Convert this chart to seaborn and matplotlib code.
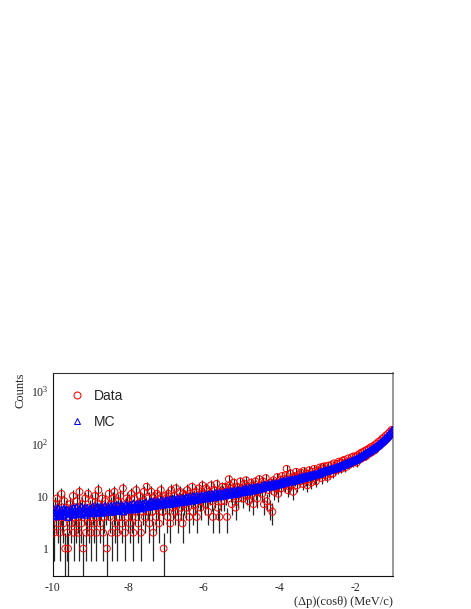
import numpy as np
import pandas as pd
import matplotlib
matplotlib.use("Agg")
import matplotlib.pyplot as plt
import seaborn as sns
from matplotlib.ticker import MultipleLocator, LogLocator, FixedLocator, FixedFormatter, NullFormatter
from matplotlib.lines import Line2D

# ---- data: 360 bins of 0.025 from -10 to -1 (one row = half a unit) --------
bin_lo = -10.0
bin_w = 0.025

data_counts = [
    5, 2, 7, 4, 9, 3, 6, 2, 5, 11, 4, 3, 8, 1, 6, 2, 1, 4, 7, 3,
    6, 10, 2, 5, 3, 8, 4, 2, 12, 6, 3, 7, 1, 5, 9, 2, 4, 11, 3, 6,
    2, 8, 5, 3, 10, 4, 2, 7, 13, 5, 3, 6, 9, 2, 4, 8, 5, 1, 6, 11,
    4, 7, 2, 9, 5, 12, 3, 6, 2, 8, 4, 10, 6, 3, 14, 5, 2, 7, 9, 4,
    8, 3, 6, 11, 4, 2, 9, 5, 13, 7, 3, 6, 10, 2, 8, 5, 12, 4, 7, 15,
    6, 9, 3, 7, 12, 5, 2, 10, 8, 4, 11, 6, 3, 9, 13, 7, 5, 1, 8, 10,
    9, 4, 11, 7, 3, 13, 8, 6, 10, 5, 14, 7, 4, 9, 12, 6, 8, 3, 11, 7,
    10, 6, 13, 8, 4, 11, 9, 15, 5, 10, 7, 12, 4, 9, 14, 8, 6, 11, 16, 9,
    11, 7, 14, 9, 5, 12, 10, 16, 8, 4, 13, 9, 11, 17, 6, 10, 4, 12, 8, 15,
    12, 8, 15, 10, 4, 13, 21, 16, 11, 7, 14, 18, 10, 6, 12, 15, 9, 13, 19, 11,
    14, 9, 17, 12, 20, 10, 15, 8, 13, 18, 11, 16, 7, 14, 19, 12, 9, 15, 21, 13,
    16, 11, 19, 7, 14, 22, 8, 17, 13, 6, 18, 15, 5, 20, 12, 17, 14, 23, 11, 18,
    20, 14, 24, 18, 21, 16, 25, 33, 13, 19, 15, 27, 17, 22, 12, 24, 20, 29, 16, 23,
    25, 19, 28, 22, 17, 30, 24, 20, 27, 16, 26, 31, 21, 18, 29, 25, 33, 22, 19, 28,
    31, 24, 35, 28, 22, 36, 29, 37, 25, 32, 23, 38, 30, 26, 39, 33, 27, 42, 31, 36,
    41, 32, 45, 36, 43, 33, 47, 38, 49, 35, 44, 40, 52, 39, 47, 42, 55, 43, 57, 45,
    56, 43, 60, 49, 63, 50, 67, 53, 69, 55, 73, 57, 76, 62, 80, 65, 85, 68, 88, 73,
    93, 76, 99, 85, 107, 89, 113, 98, 123, 104, 131, 112, 142, 121, 151, 134, 165, 148, 182, 174,
]

mc_counts = [
    4.3, 5.6, 4.8, 4.1, 5.3, 5.9, 4.5, 5.0, 4.2, 5.5, 4.9, 4.4, 5.8, 5.1, 4.6, 5.4, 4.0, 5.2, 4.7, 5.7,
    5.0, 4.4, 5.9, 5.3, 4.6, 6.1, 5.1, 4.5, 5.6, 4.8, 6.2, 5.2, 4.7, 5.8, 5.0, 4.4, 6.0, 5.4, 4.9, 5.7,
    5.6, 4.8, 6.3, 5.2, 4.7, 6.0, 5.5, 6.4, 4.9, 5.7, 5.1, 6.2, 4.8, 5.9, 5.3, 6.5, 5.0, 5.8, 5.4, 6.1,
    5.4, 6.4, 5.0, 6.1, 5.7, 6.7, 5.2, 6.0, 5.5, 6.8, 5.3, 6.2, 5.8, 6.6, 5.1, 6.3, 5.9, 6.9, 5.6, 6.4,
    6.1, 5.5, 6.8, 6.3, 5.7, 7.2, 6.0, 6.6, 5.6, 7.0, 6.4, 5.9, 7.3, 6.2, 6.9, 5.8, 7.1, 6.5, 7.4, 6.2,
    6.9, 6.2, 7.5, 6.6, 7.8, 6.4, 7.1, 8.0, 6.5, 7.4, 6.8, 7.9, 6.7, 7.6, 7.0, 8.2, 6.9, 7.5, 7.2, 8.1,
    7.3, 8.3, 7.0, 7.9, 8.6, 7.4, 8.1, 7.2, 8.8, 7.7, 8.4, 7.5, 9.0, 7.9, 8.5, 7.6, 9.1, 8.2, 7.8, 8.9,
    8.4, 9.3, 7.9, 8.8, 9.6, 8.2, 9.0, 8.6, 9.9, 8.5, 9.4, 8.3, 10.1, 9.0, 8.7, 9.8, 9.2, 10.3, 8.9, 9.7,
    9.4, 10.4, 9.0, 10.0, 10.8, 9.5, 10.2, 9.3, 11.0, 9.9, 10.6, 9.6, 11.3, 10.1, 10.9, 9.8, 11.5, 10.4, 11.1, 10.2,
    10.7, 11.8, 10.3, 11.3, 12.2, 10.8, 11.6, 10.6, 12.5, 11.2, 12.0, 10.9, 12.8, 11.5, 12.3, 11.1, 13.0, 11.9, 12.6, 11.7,
    12.3, 13.5, 11.9, 12.9, 14.0, 12.5, 13.3, 12.2, 14.4, 13.0, 13.8, 12.7, 14.7, 13.4, 14.2, 13.1, 15.0, 13.7, 14.5, 13.9,
    14.4, 15.8, 14.1, 15.2, 16.3, 14.8, 15.6, 14.9, 16.8, 15.5, 16.2, 15.3, 17.2, 16.0, 16.7, 15.9, 17.6, 16.5, 17.3, 16.9,
    17.4, 18.8, 17.0, 18.3, 19.5, 18.0, 18.9, 18.2, 20.1, 19.0, 19.7, 18.8, 20.6, 19.6, 20.3, 19.5, 21.2, 20.2, 21.0, 20.6,
    21.3, 22.8, 21.0, 22.4, 23.5, 22.1, 23.0, 22.6, 24.2, 23.3, 24.0, 23.4, 25.1, 24.3, 25.0, 24.6, 26.0, 25.3, 26.1, 25.9,
    26.4, 27.9, 26.6, 28.1, 29.0, 28.2, 29.4, 29.1, 30.6, 30.0, 31.0, 30.6, 32.0, 31.6, 32.5, 32.3, 33.6, 33.1, 34.2, 34.0,
    34.6, 36.0, 35.3, 36.9, 37.6, 37.4, 38.9, 38.7, 40.2, 40.1, 41.6, 41.7, 43.1, 43.2, 44.7, 44.9, 46.3, 46.6, 48.0, 48.5,
    48.8, 50.3, 51.2, 53.0, 53.9, 55.6, 56.8, 58.6, 59.9, 61.7, 63.2, 65.0, 66.6, 68.5, 70.3, 72.2, 74.2, 76.1, 78.3, 80.4,
    82.5, 85.4, 88.0, 91.2, 94.0, 97.5, 101, 105, 109, 113, 118, 123, 128, 134, 140, 147, 154, 162, 171, 181,
]

y_major = [1, 10, 100, 1000]
y_major_labels = ["1", "10", r"$10^{2}$", r"$10^{3}$"]
x_major = [-10, -8, -6, -4, -2]

centers = bin_lo + bin_w * (np.arange(len(data_counts)) + 0.5)
df = pd.DataFrame({"x": centers, "data": data_counts, "mc": mc_counts})
df["err"] = np.sqrt(df["data"])
df["lo"] = (df["data"] - df["err"]).clip(lower=0.01)
df["hi"] = df["data"] + df["err"]

sns.set_style("white")
plt.rcParams["font.family"] = ["Liberation Serif", "DejaVu Serif"]
plt.rcParams["mathtext.fontset"] = "custom"
plt.rcParams["mathtext.rm"] = "Liberation Serif"
plt.rcParams["mathtext.it"] = "Liberation Serif:italic"
plt.rcParams["mathtext.default"] = "regular"
plt.rcParams["axes.unicode_minus"] = False

fig = plt.figure(figsize=(4.71, 6.09), dpi=100)
ax = fig.add_axes([52.5 / 471, 1 - 576 / 609, 340.5 / 471, 203 / 609])

# data error bars then markers, MC on top
ax.vlines(df["x"], df["lo"], df["hi"], color="#262626", lw=0.9, zorder=2)
sns.scatterplot(data=df, x="x", y="data", ax=ax, marker="o", s=24,
                facecolors="none", edgecolor="#ff0000", linewidth=0.7, zorder=3)
sns.scatterplot(data=df, x="x", y="mc", ax=ax, marker="^", s=24,
                facecolors="none", edgecolor="#0000ff", linewidth=0.9, zorder=4)

ax.set_yscale("log")
ax.set_xlim(-10, -1)
ax.set_ylim(0.3, 2200)

ax.xaxis.set_major_locator(FixedLocator(x_major))
ax.xaxis.set_minor_locator(MultipleLocator(0.4))
ax.yaxis.set_major_locator(FixedLocator(y_major))
ax.yaxis.set_major_formatter(FixedFormatter(y_major_labels))
ax.yaxis.set_minor_locator(LogLocator(base=10, subs=np.arange(2, 10)))
ax.yaxis.set_minor_formatter(NullFormatter())

ax.tick_params(axis="both", which="both", direction="in", top=False, right=False,
               color="#222222", width=0.7, labelsize=8.5)
ax.tick_params(axis="x", which="major", length=5, pad=4)
ax.tick_params(axis="x", which="minor", length=2.5)
ax.tick_params(axis="y", which="major", length=6, pad=3)
ax.tick_params(axis="y", which="minor", length=3)

for side in ["left", "bottom"]:
    ax.spines[side].set_color("#111111")
    ax.spines[side].set_linewidth(0.8)
ax.spines["top"].set_color("#333333")
ax.spines["top"].set_linewidth(0.8)
ax.spines["right"].set_color("#888888")
ax.spines["right"].set_linewidth(1.2)

ax.set_xlabel("(\u0394p)(cos\u03b8) (MeV/c)", loc="right", fontsize=9, labelpad=2)
ax.set_ylabel("Counts", loc="top", fontsize=9, labelpad=3)

handles = [
    Line2D([], [], marker="o", ls="none", mfc="none", mec="#ff0000", ms=5, mew=0.75),
    Line2D([], [], marker="^", ls="none", mfc="none", mec="#0000ff", ms=4, mew=0.75),
]
ax.legend(handles, ["Data", "MC"], loc="upper left", bbox_to_anchor=(0.012, 0.985),
          frameon=False, prop={"family": "Liberation Sans", "size": 10},
          labelspacing=0.9, handletextpad=0.6, handlelength=1.2)

fig.savefig("out.png", dpi=100, facecolor="white")
